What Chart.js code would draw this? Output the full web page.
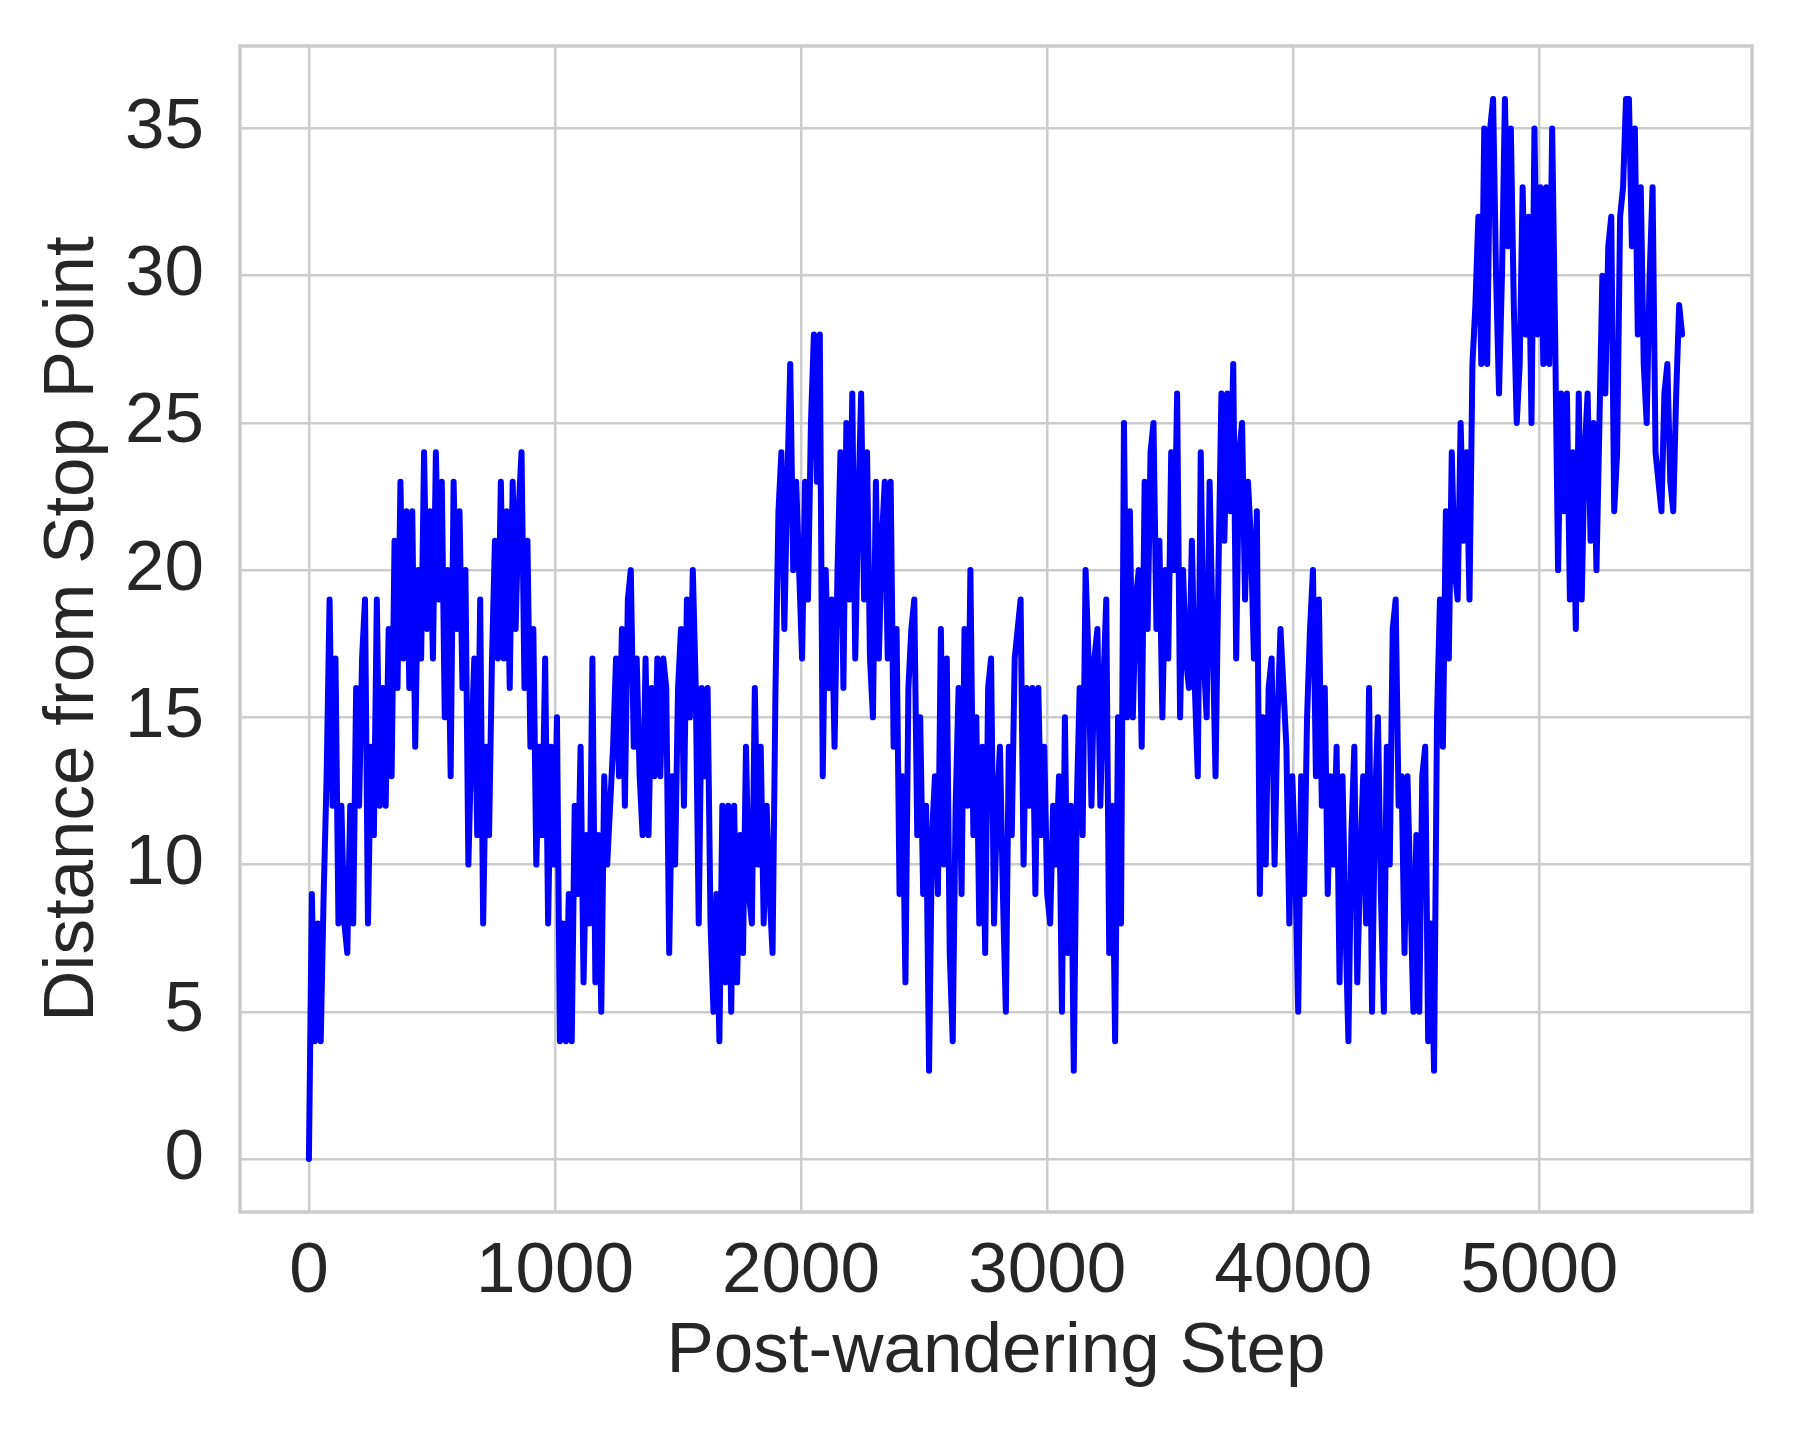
<!DOCTYPE html>
<html>
<head>
<meta charset="utf-8">
<script src="https://cdn.jsdelivr.net/npm/chart.js@4"></script>
<style>
  html, body { margin: 0; padding: 0; background: #ffffff; }
  canvas { display: block; }
</style>
</head>
<body>
<canvas id="c" width="1799" height="1439"></canvas>
<script>
// ---- data (one sample every 12 steps) ----
const sampleEvery = 12;
const distance = [
  0, 9, 4, 8, 4, 9, 13, 19, 12, 17,
  8, 12, 8, 7, 12, 8, 16, 12, 17, 19,
  8, 14, 11, 19, 12, 16, 12, 18, 13, 21,
  16, 23, 17, 22, 16, 22, 14, 20, 17, 24,
  18, 22, 17, 24, 19, 23, 15, 20, 13, 23,
  18, 22, 16, 20, 10, 14, 17, 11, 19, 8,
  14, 11, 17, 21, 17, 23, 17, 22, 16, 23,
  18, 22, 24, 16, 21, 14, 18, 10, 14, 11,
  17, 8, 14, 10, 15, 4, 8, 4, 9, 4,
  12, 9, 14, 6, 11, 8, 17, 6, 11, 5,
  13, 10, 12, 14, 17, 13, 18, 12, 19, 20,
  14, 17, 13, 11, 17, 11, 16, 13, 17, 13,
  17, 16, 7, 13, 10, 16, 18, 12, 19, 15,
  20, 16, 8, 16, 13, 16, 8, 5, 9, 4,
  12, 6, 12, 5, 12, 6, 11, 7, 14, 9,
  8, 16, 10, 14, 8, 12, 9, 7, 16, 22,
  24, 18, 23, 27, 20, 23, 20, 17, 23, 19,
  25, 28, 23, 28, 13, 20, 16, 19, 14, 20,
  24, 16, 25, 19, 26, 17, 22, 26, 19, 24,
  17, 15, 23, 17, 21, 23, 17, 23, 14, 18,
  9, 13, 6, 16, 18, 19, 11, 15, 9, 12,
  3, 11, 13, 9, 18, 10, 17, 7, 4, 12,
  16, 9, 18, 12, 20, 11, 15, 8, 14, 7,
  16, 17, 8, 12, 14, 9, 5, 14, 11, 17,
  18, 19, 10, 16, 12, 16, 9, 16, 11, 14,
  9, 8, 12, 10, 13, 5, 15, 7, 12, 3,
  12, 16, 11, 20, 17, 12, 17, 18, 12, 16,
  19, 7, 12, 4, 15, 8, 25, 15, 22, 15,
  19, 20, 14, 23, 18, 24, 25, 18, 21, 15,
  20, 17, 24, 20, 26, 15, 20, 17, 16, 21,
  16, 13, 24, 17, 15, 23, 18, 13, 20, 26,
  21, 26, 22, 27, 17, 24, 25, 19, 23, 21,
  17, 22, 9, 15, 10, 16, 17, 10, 15, 18,
  16, 14, 8, 13, 10, 5, 13, 9, 15, 18,
  20, 13, 19, 12, 16, 9, 13, 10, 14, 6,
  13, 8, 4, 11, 14, 6, 10, 13, 8, 16,
  5, 12, 15, 9, 5, 14, 10, 18, 19, 12,
  13, 7, 13, 9, 5, 11, 5, 13, 14, 4,
  8, 3, 15, 19, 14, 22, 17, 24, 20, 19,
  25, 21, 24, 19, 27, 29, 32, 27, 35, 27,
  35, 36, 30, 26, 30, 36, 31, 35, 29, 25,
  27, 33, 28, 32, 25, 35, 28, 33, 27, 33,
  27, 35, 28, 20, 26, 22, 26, 19, 24, 18,
  26, 19, 24, 26, 21, 25, 20, 25, 30, 26,
  31, 32, 22, 24, 32, 33, 36, 36, 31, 35,
  28, 33, 27, 25, 30, 33, 24, 23, 22, 26,
  27, 23, 22, 26, 29, 28
];
const xTickValues = [0, 1000, 2000, 3000, 4000, 5000];
const yTickValues = [0, 5, 10, 15, 20, 25, 30, 35];
const xAxisTitle = 'Post-wandering Step';
const yAxisTitle = 'Distance from Stop Point';

// ---- build points ----
const points = distance.map((d, i) => ({ x: i * sampleEvery, y: d }));

const FONT = '"Liberation Sans", Arial, "DejaVu Sans", sans-serif';
const TEXT = '#262626';
const GRID = '#cccccc';

const framePlugin = {
  id: 'frame',
  beforeDatasetsDraw(chart) {
    const a = chart.chartArea, ctx = chart.ctx;
    ctx.save();
    ctx.strokeStyle = GRID;
    ctx.lineWidth = 3.5;
    ctx.strokeRect(a.left, a.top, a.right - a.left, a.bottom - a.top);
    ctx.restore();
  }
};

function noEdgePadding(s) {
  s.paddingTop = 0; s.paddingBottom = 0; s.paddingLeft = 0; s.paddingRight = 0;
}

new Chart(document.getElementById('c'), {
  type: 'line',
  data: {
    datasets: [{
      data: points,
      borderColor: '#0000ff',
      borderWidth: 6,
      pointRadius: 0,
      tension: 0,
      fill: false,
      borderJoinStyle: 'round',
      borderCapStyle: 'round'
    }]
  },
  options: {
    responsive: false,
    animation: false,
    devicePixelRatio: 1,
    layout: { padding: { top: 46, right: 47, left: 0, bottom: 0 } },
    plugins: { legend: { display: false }, tooltip: { enabled: false } },
    scales: {
      x: {
        type: 'linear',
        min: -280,
        max: 5864,
        afterFit(s) { s.height = 227; noEdgePadding(s); },
        afterBuildTicks(s) { s.ticks = xTickValues.map(v => ({ value: v })); },
        grid: { color: GRID, lineWidth: 2.5, drawTicks: false },
        border: { display: false },
        ticks: {
          padding: 18,
          color: TEXT,
          font: { family: FONT, size: 71 },
          maxRotation: 0,
          autoSkip: false,
          callback: v => String(v)
        },
        title: {
          display: true,
          text: xAxisTitle,
          color: TEXT,
          font: { family: FONT, size: 71 },
          padding: { top: 0, bottom: 44 }
        }
      },
      y: {
        type: 'linear',
        min: -1.8,
        max: 37.8,
        afterFit(s) { s.width = 240; noEdgePadding(s); },
        afterBuildTicks(s) { s.ticks = yTickValues.map(v => ({ value: v })); },
        grid: { color: GRID, lineWidth: 2.5, drawTicks: false },
        border: { display: false },
        ticks: {
          padding: 36,
          color: TEXT,
          font: { family: FONT, size: 71 },
          autoSkip: false,
          callback: v => String(v)
        },
        title: {
          display: true,
          text: yAxisTitle,
          color: TEXT,
          font: { family: FONT, size: 71 },
          padding: { top: 31, bottom: 0 }
        }
      }
    }
  },
  plugins: [framePlugin]
});
</script>
</body>
</html>
